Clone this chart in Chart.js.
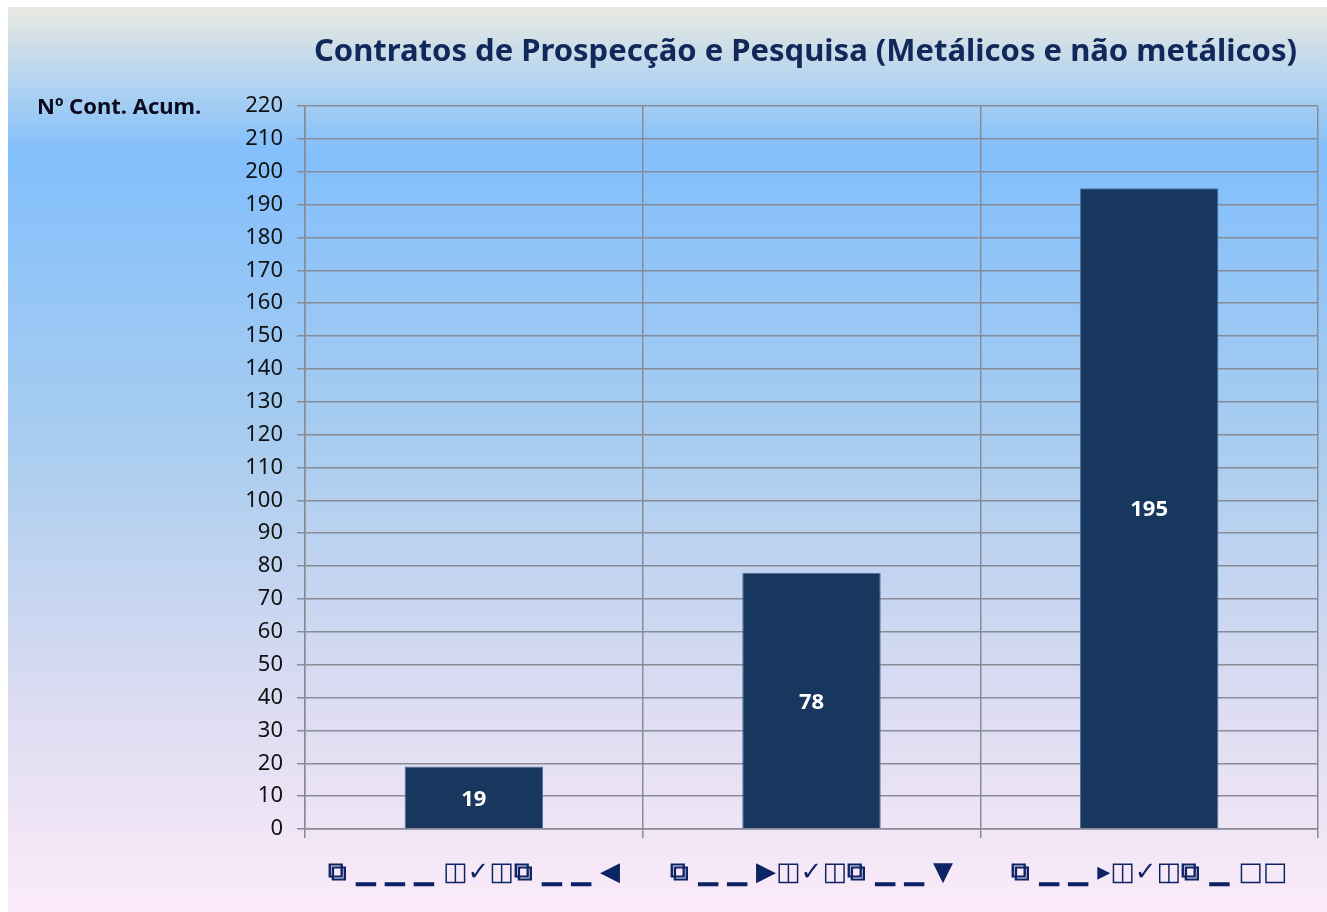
<!DOCTYPE html>
<html>
<head>
<meta charset="utf-8">
<script src="https://cdn.jsdelivr.net/npm/chart.js@4/dist/chart.umd.min.js"></script>
<style>
  html, body { margin: 0; padding: 0; background: #fff; }
  #wrap { width: 1327px; height: 912px; }
</style>
</head>
<body>
<div id="wrap"><canvas id="chart"></canvas></div>
<script>
// categories came out as symbol glyphs in the original, kept as such
const categories = [
    '⧉ ▁ ▁ ▁ ◫✓◫⧉ ▁ ▁ ◀',
    '⧉ ▁ ▁ ▶◫✓◫⧉ ▁ ▁ ▼',
    '⧉ ▁ ▁ ▸◫✓◫⧉ ▁ □□'
];
const contratos = [19, 78, 195];
const yMin = 0;
const yMax = 220;
const yStep = 10;

const chartTitle = 'Contratos de Prospecção e Pesquisa (Metálicos e não metálicos)';
const yTitle = 'Nº Cont. Acum.';

const backgroundPlugin = {
    id: 'bg',
    beforeDraw(chart) {
        const ctx = chart.ctx;
        const g = ctx.createLinearGradient(0, 7, 0, 912);
        g.addColorStop(0, '#e9e9e1');
        g.addColorStop(0.16, '#82bffc');
        g.addColorStop(0.49, '#aacdef');
        g.addColorStop(0.77, '#dcdcf2');
        g.addColorStop(1, '#fcebf8');
        ctx.save();
        ctx.fillStyle = g;
        ctx.fillRect(8, 7, chart.width - 8, chart.height - 7);
        ctx.restore();
    }
};

const textPlugin = {
    id: 'texts',
    afterDraw(chart) {
        const ctx = chart.ctx;
        ctx.save();
        // title, fitted to the width it has in the picture
        let size = 32;
        ctx.font = `bold ${size}px "Noto Sans"`;
        while (ctx.measureText(chartTitle).width > 986 && size > 10) {
            size -= 0.5;
            ctx.font = `bold ${size}px "Noto Sans"`;
        }
        ctx.fillStyle = '#10295a';
        ctx.textAlign = 'right';
        ctx.textBaseline = 'alphabetic';
        ctx.fillText(chartTitle, 1297, 61);

        // axis title
        ctx.font = 'bold 22px "Noto Sans"';
        ctx.fillStyle = '#0b0b1e';
        ctx.textAlign = 'left';
        ctx.textBaseline = 'middle';
        ctx.fillText(yTitle, 37, chart.chartArea.top + 2);

        // value labels inside bars
        const meta = chart.getDatasetMeta(0);
        ctx.font = 'bold 22px "Noto Sans"';
        ctx.fillStyle = '#ffffff';
        ctx.textAlign = 'center';
        meta.data.forEach((bar, i) => {
            ctx.fillText(String(contratos[i]), bar.x, (bar.y + bar.base) / 2 + 2);
        });
        ctx.restore();
    }
};

const gridColor = '#878c96';

new Chart(document.getElementById('chart'), {
    type: 'bar',
    data: {
        labels: categories,
        datasets: [{
            data: contratos,
            backgroundColor: '#17375e',
            borderColor: '#4d6f9c',
            borderWidth: 1,
            categoryPercentage: 1,
            barPercentage: 0.41
        }]
    },
    options: {
        responsive: true,
        maintainAspectRatio: false,
        animation: false,
        layout: { padding: { left: 0, right: 9, top: 106, bottom: 0 } },
        plugins: {
            legend: { display: false },
            tooltip: { enabled: false }
        },
        scales: {
            x: {
                grid: { color: gridColor, lineWidth: 1.5, tickLength: 9, offset: true },
                border: { color: gridColor, width: 1.5 },
                ticks: {
                    color: '#0c2466',
                    padding: 20,
                    maxRotation: 0,
                    font: { family: '"DejaVu Sans"', size: 26, weight: 'bold' }
                },
                afterFit(scale) { scale.height = 83; }
            },
            y: {
                min: yMin,
                max: yMax,
                grid: { color: gridColor, lineWidth: 1.5, tickLength: 8 },
                border: { color: gridColor, width: 1.5 },
                ticks: {
                    stepSize: yStep,
                    color: '#111111',
                    padding: 14,
                    font: { family: '"Noto Sans"', size: 22 }
                },
                afterFit(scale) { scale.width = 305; }
            }
        }
    },
    plugins: [backgroundPlugin, textPlugin]
});
</script>
</body>
</html>
